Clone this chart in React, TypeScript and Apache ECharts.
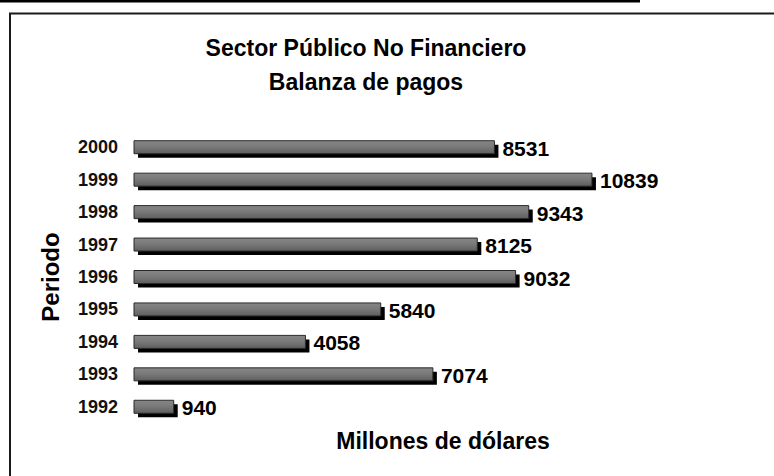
import React, { useEffect, useRef } from "react";
import * as echarts from "echarts";

const years = ["1992", "1993", "1994", "1995", "1996", "1997", "1998", "1999", "2000"];
const values = [940, 7074, 4058, 5840, 9032, 8125, 9343, 10839, 8531];
const titleLines = ["Sector Público No Financiero", "Balanza de pagos"];
const xName = "Millones de dólares";
const yName = "Periodo";

const FONT = "'Liberation Sans', Arial, Helvetica, sans-serif";

export default function App() {
  const ref = useRef<HTMLDivElement>(null);
  useEffect(() => {
    if (!ref.current) return;
    const chart = echarts.init(ref.current, null, { renderer: "svg" });
    const faceFill = new echarts.graphic.LinearGradient(0, 0, 0, 1, [
      { offset: 0, color: "#868686" },
      { offset: 0.45, color: "#7a7a7a" },
      { offset: 1, color: "#5e5e5e" },
    ]);
    chart.setOption({
      animation: false,
      backgroundColor: "#ffffff",
      title: {
        text: titleLines.join("\n"),
        left: 361,
        top: 26,
        textAlign: "center",
        textStyle: {
          fontFamily: FONT,
          fontWeight: "bold",
          fontSize: 23,
          lineHeight: 34,
          color: "#000",
        },
      },
      graphic: [
        {
          type: "rect",
          shape: { x: 0, y: 0, width: 640, height: 2.5 },
          style: { fill: "#000" },
          silent: true,
        },
        {
          type: "polyline",
          shape: { points: [[10, 480], [10, 13.5], [780, 13.5]] },
          style: { stroke: "#1a1a1a", lineWidth: 2, fill: null },
          silent: true,
        },
        {
          type: "text",
          x: 443,
          y: 441,
          style: {
            text: xName,
            fontFamily: FONT,
            fontWeight: "bold",
            fontSize: 23,
            fill: "#000",
            align: "center",
            verticalAlign: "middle",
          },
          silent: true,
        },
      ],
      grid: { left: 134, right: 133, top: 131, bottom: 53, containLabel: false },
      xAxis: {
        type: "value",
        min: 0,
        max: 12000,
        show: false,
      },
      yAxis: {
        type: "category",
        data: years,
        name: yName,
        nameLocation: "middle",
        nameRotate: 90,
        nameGap: 72,
        nameTextStyle: {
          fontFamily: FONT,
          fontWeight: "bold",
          fontSize: 24,
          color: "#000",
        },
        axisLine: { show: false },
        axisTick: { show: false },
        splitLine: { show: false },
        axisLabel: {
          margin: 16,
          fontFamily: FONT,
          fontWeight: "bold",
          fontSize: 18,
          color: "#111",
        },
      },
      series: [
        {
          type: "custom",
          encode: { x: 0, y: 1 },
          data: values.map((v, i) => [v, i]),
          renderItem: (params: any, api: any) => {
            const v = api.value(0);
            const cat = api.value(1);
            const start = api.coord([0, cat]);
            const end = api.coord([v, cat]);
            const c = start[1];
            const w = end[0] - start[0];
            const h = 13;
            return {
              type: "group",
              children: [
                {
                  type: "rect",
                  shape: { x: start[0] + 4, y: c - h / 2 + 4, width: w, height: h },
                  style: { fill: "#000" },
                },
                {
                  type: "rect",
                  shape: { x: start[0], y: c - h / 2, width: w, height: h },
                  style: { fill: faceFill, stroke: "#2a2a2a", lineWidth: 1 },
                },
                {
                  type: "text",
                  x: end[0] + 8,
                  y: c + 1,
                  style: {
                    text: String(v),
                    fontFamily: FONT,
                    fontWeight: "bold",
                    fontSize: 21,
                    fill: "#000",
                    align: "left",
                    verticalAlign: "middle",
                  },
                },
              ],
            };
          },
        },
      ],
    });
    return () => chart.dispose();
  }, []);
  return (
    <div
      ref={ref}
      style={{ position: "fixed", left: 0, top: 0, width: 774, height: 476, background: "#fff" }}
    />
  );
}
